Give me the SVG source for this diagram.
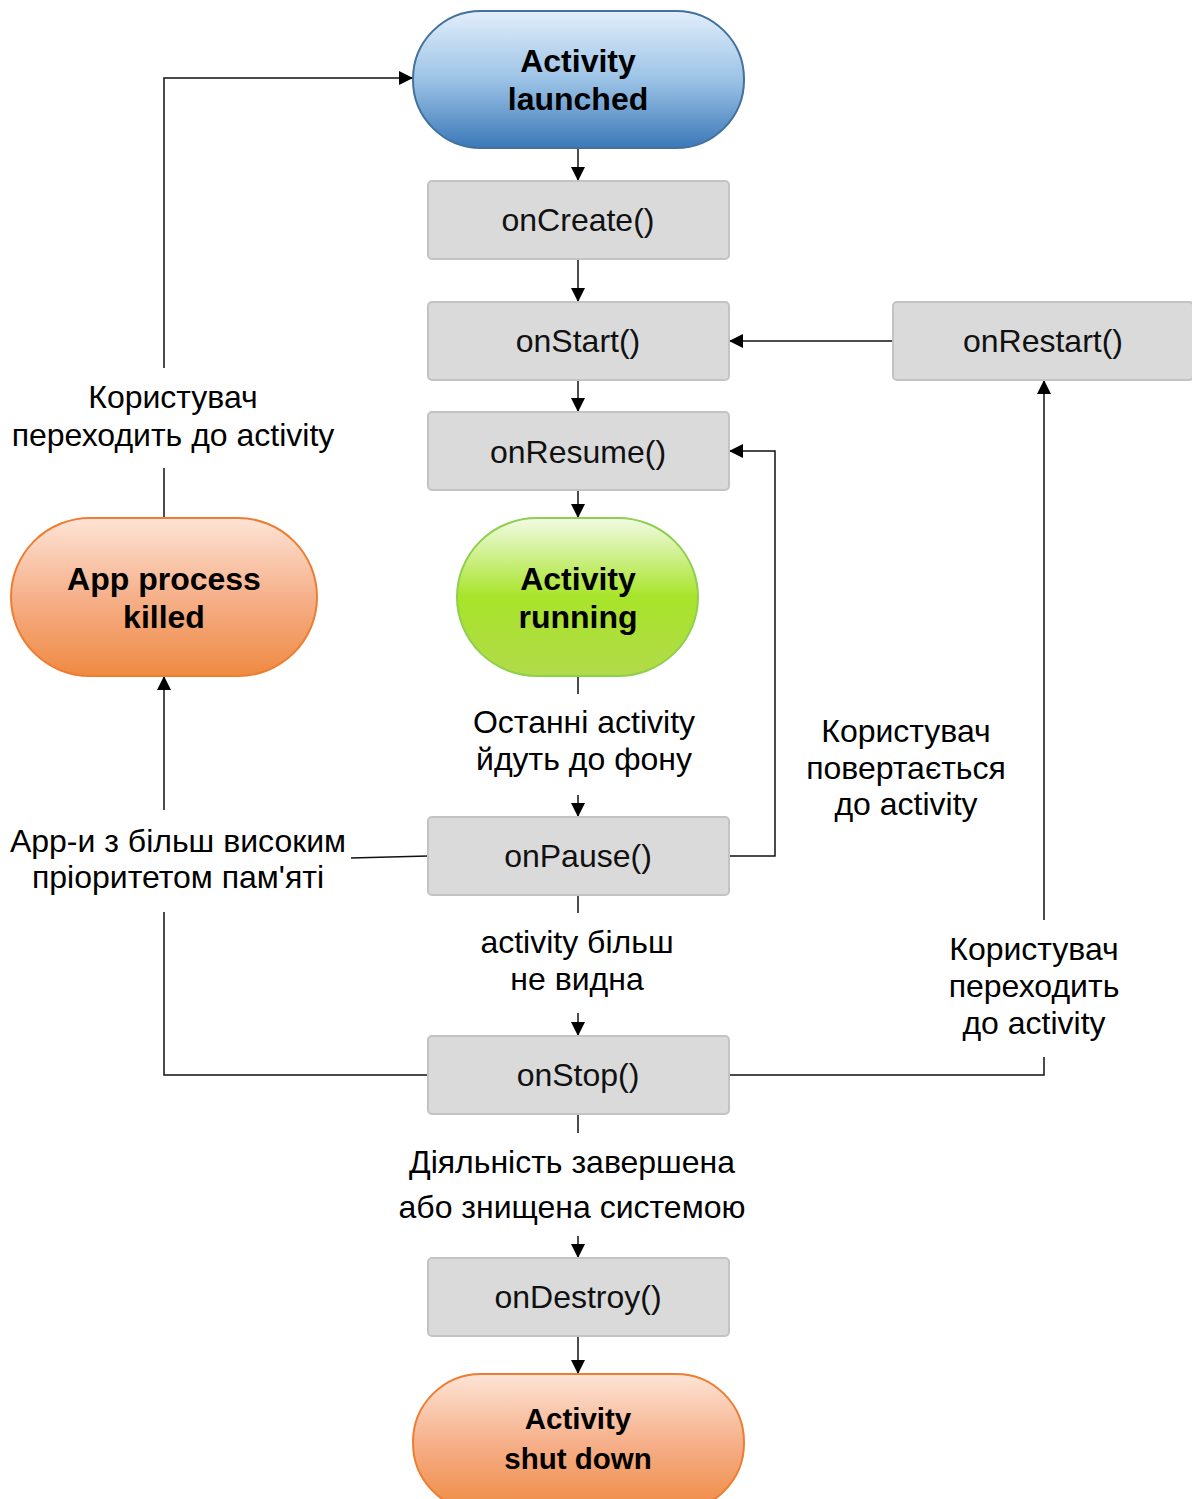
<svg xmlns="http://www.w3.org/2000/svg" width="1192" height="1499" viewBox="0 0 1192 1499">
  <defs>
    <linearGradient id="gBlue" x1="0" y1="0" x2="0" y2="1">
      <stop offset="0" stop-color="#e2eefb"/>
      <stop offset="0.5" stop-color="#9cc3e6"/>
      <stop offset="1" stop-color="#3b78b8"/>
    </linearGradient>
    <linearGradient id="gGreen" x1="0" y1="0" x2="0" y2="1">
      <stop offset="0" stop-color="#f2fbe4"/>
      <stop offset="0.5" stop-color="#a8e42a"/>
      <stop offset="1" stop-color="#b2da4a"/>
    </linearGradient>
    <linearGradient id="gOrange" x1="0" y1="0" x2="0" y2="1">
      <stop offset="0" stop-color="#fde4d6"/>
      <stop offset="0.5" stop-color="#f6b08a"/>
      <stop offset="1" stop-color="#ef8a42"/>
    </linearGradient>
    <marker id="arr" viewBox="0 0 14 16" refX="14" refY="8" markerWidth="14" markerHeight="16" markerUnits="userSpaceOnUse" orient="auto">
      <path d="M0,1 L14,8 L0,15 Z" fill="#000"/>
    </marker>
  </defs>
  <style>
    .box { fill: #dadada; stroke: #c3c3c3; stroke-width: 2; }
    .blue { fill: url(#gBlue); stroke: #41719c; stroke-width: 2; }
    .green { fill: url(#gGreen); stroke: #8fcf4e; stroke-width: 2; }
    .orange { fill: url(#gOrange); stroke: #ed7d31; stroke-width: 2; }
    .fn { font-family: "Liberation Sans", Arial, sans-serif; font-size: 32px; fill: #111; text-anchor: middle; }
    .bold { font-family: "Liberation Sans", Arial, sans-serif; font-size: 32px; font-weight: bold; fill: #000; text-anchor: middle; }
    .bold.sm { font-size: 29.5px; }
    .lbl { font-family: "Liberation Sans", Arial, sans-serif; font-size: 32px; fill: #000; text-anchor: middle; }
    .ln { fill: none; stroke: #111; stroke-width: 1.5; }
    .ar { fill: none; stroke: #111; stroke-width: 1.5; marker-end: url(#arr); }
  </style>

  <!-- connectors -->
  <g id="connectors">
    <path class="ar" d="M578,148 V181"/>
    <path class="ar" d="M578,259 V302"/>
    <path class="ar" d="M578,380 V412"/>
    <path class="ar" d="M578,490 V518"/>
    <path class="ar" d="M893,341 H729"/>
    <!-- running to onPause -->
    <path class="ln" d="M578,676 V694"/>
    <path class="ar" d="M578,795 V817"/>
    <!-- onPause back to onResume -->
    <path class="ar" d="M729,856 H775 V451 H729"/>
    <!-- onPause to onStop -->
    <path class="ln" d="M578,895 V913"/>
    <path class="ar" d="M578,1013 V1036"/>
    <!-- onStop to onDestroy -->
    <path class="ln" d="M578,1114 V1133"/>
    <path class="ar" d="M578,1236 V1258"/>
    <path class="ar" d="M578,1336 V1374"/>
    <!-- onStop / onPause to process killed -->
    <path class="ln" d="M428,1075 H164 V912"/>
    <path class="ln" d="M428,856 L351,858"/>
    <path class="ar" d="M164,810 V676"/>
    <!-- process killed to launched -->
    <path class="ln" d="M164,518 V468"/>
    <path class="ar" d="M164,368 V78 H413"/>
    <!-- onStop to onRestart -->
    <path class="ln" d="M729,1075 H1044 V1057"/>
    <path class="ar" d="M1044,920 V380"/>
  </g>

  <!-- edge labels -->
  <g id="labels">
    <text class="lbl" x="173" y="408">Користувач</text>
    <text class="lbl" x="173" y="446">переходить до activity</text>
    <text class="lbl" x="584" y="733">Останні activity</text>
    <text class="lbl" x="584" y="770">йдуть до фону</text>
    <text class="lbl" x="906" y="742">Користувач</text>
    <text class="lbl" x="906" y="779">повертається</text>
    <text class="lbl" x="906" y="815">до activity</text>
    <text class="lbl" x="178" y="852">App-и з більш високим</text>
    <text class="lbl" x="178" y="888">пріоритетом пам'яті</text>
    <text class="lbl" x="577" y="953">activity більш</text>
    <text class="lbl" x="577" y="990">не видна</text>
    <text class="lbl" x="1034" y="960">Користувач</text>
    <text class="lbl" x="1034" y="997">переходить</text>
    <text class="lbl" x="1034" y="1034">до activity</text>
    <text class="lbl" x="572" y="1173">Діяльність завершена</text>
    <text class="lbl" x="572" y="1218">або знищена системою</text>
  </g>

  <g id="launched">
    <rect class="blue" x="413" y="11" width="331" height="137" rx="68" ry="68"/>
    <text class="bold" x="578" y="72">Activity</text>
    <text class="bold" x="578" y="110">launched</text>
  </g>
  <g id="onCreate">
    <rect class="box" x="428" y="181" width="301" height="78" rx="4"/>
    <text class="fn" x="578" y="231">onCreate()</text>
  </g>
  <g id="onStart">
    <rect class="box" x="428" y="302" width="301" height="78" rx="4"/>
    <text class="fn" x="578" y="352">onStart()</text>
  </g>
  <g id="onRestart">
    <rect class="box" x="893" y="302" width="300" height="78" rx="4"/>
    <text class="fn" x="1043" y="352">onRestart()</text>
  </g>
  <g id="onResume">
    <rect class="box" x="428" y="412" width="301" height="78" rx="4"/>
    <text class="fn" x="578" y="463">onResume()</text>
  </g>
  <g id="running">
    <rect class="green" x="457" y="518" width="241" height="158" rx="80" ry="79"/>
    <text class="bold" x="578" y="590">Activity</text>
    <text class="bold" x="578" y="628">running</text>
  </g>
  <g id="killed">
    <rect class="orange" x="11" y="518" width="306" height="158" rx="79" ry="79"/>
    <text class="bold" x="164" y="590">App process</text>
    <text class="bold" x="164" y="628">killed</text>
  </g>
  <g id="onPause">
    <rect class="box" x="428" y="817" width="301" height="78" rx="4"/>
    <text class="fn" x="578" y="867">onPause()</text>
  </g>
  <g id="onStop">
    <rect class="box" x="428" y="1036" width="301" height="78" rx="4"/>
    <text class="fn" x="578" y="1086">onStop()</text>
  </g>
  <g id="onDestroy">
    <rect class="box" x="428" y="1258" width="301" height="78" rx="4"/>
    <text class="fn" x="578" y="1308">onDestroy()</text>
  </g>
  <g id="shutdown">
    <rect class="orange" x="413" y="1374" width="331" height="137" rx="68" ry="68"/>
    <text class="bold sm" x="578" y="1429">Activity</text>
    <text class="bold sm" x="578" y="1469">shut down</text>
  </g>
</svg>
